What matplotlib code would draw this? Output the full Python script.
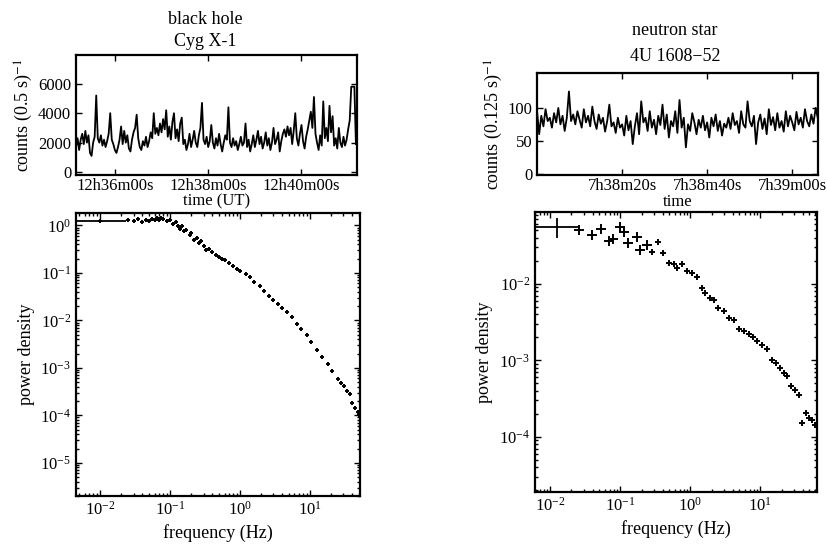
import numpy as np
import matplotlib.pyplot as plt
from matplotlib.ticker import FixedLocator, FixedFormatter, LogLocator, NullFormatter

plt.rcParams['font.family'] = ['Liberation Serif', 'DejaVu Serif']
plt.rcParams['mathtext.fontset'] = 'stix'
plt.rcParams['axes.linewidth'] = 1.6

# Cyg X-1 light curve, counts per 0.5 s (read every 2 s), start 12h35m10s
cyg_t0 = 45310
cyg_dt = 2
cyg_counts = [
    1700, 2300, 1500, 2200, 2600, 1900, 2800, 2000, 2500, 1300,
    1100, 2000, 2400, 5200, 2300, 2000, 2500, 1800, 2200, 1700,
    2100, 2600, 4000, 2200, 1900, 1500, 1300, 1700, 2200, 3100,
    1900, 2800, 2000, 2500, 1600, 1400, 2200, 2700, 3000, 3900,
    2300, 1700, 1500, 2100, 1800, 2400, 1700, 2100, 2700, 2300,
    4000, 2600, 3000, 2500, 3300, 2700, 3600, 2900, 4200, 2400,
    3100, 2200, 3400, 4000, 2300, 2900, 2100, 3300, 3700, 1900,
    2200, 1500, 1900, 2600, 1700, 2200, 2800, 2000, 1700, 2500,
    3000, 4700, 2200, 1900, 2400, 1700, 2100, 3200, 2000, 1600,
    2300, 1800, 2600, 1900, 1400, 2000, 2500, 2200, 4400, 2000,
    1700, 2300, 1800, 2100, 1500, 1900, 2400, 1800, 2000, 3300,
    1700, 2200, 1400, 1900, 2500, 1700, 2200, 2800, 1900, 2400,
    1600, 2000, 2700, 1800, 2300, 1500, 2000, 3000, 1900, 2200,
    2700, 1400, 2100, 2600, 2900, 2400, 3100, 2500, 3000, 1900,
    2800, 4000, 2300, 1800, 2600, 3200, 2100, 1600, 2400, 2900,
    3500, 4100, 3000, 5100, 2600, 2000, 1500, 2500, 1800, 4800,
    2300, 3000, 2100, 4500, 2700, 3800, 1800, 2300, 1600, 3000,
    2000, 1700, 2400, 1800, 2200, 2900, 3500, 5800, 5800, 5800,
    1900,
]
cyg_ticks = [45360, 45480, 45600]
cyg_ticklabels = ['12h36m00s', '12h38m00s', '12h40m00s']

# 4U 1608-52 light curve, counts per 0.125 s (read every 0.5 s), start 7h38m00s
ns_t0 = 27480
ns_dt = 0.5
ns_counts = [
    95, 60, 88, 72, 98, 80, 85, 70, 92, 78,
    100, 75, 88, 65, 85, 125, 80, 90, 75, 95,
    82, 70, 98, 78, 88, 72, 102, 80, 68, 90,
    76, 85, 64, 80, 105, 72, 78, 62, 85, 70,
    75, 58, 88, 66, 80, 45, 72, 92, 60, 110,
    78, 85, 65, 95, 70, 82, 60, 88, 74, 105,
    68, 90, 55, 80, 72, 95, 62, 112, 70, 85,
    40, 75, 65, 92, 78, 60, 82, 70, 88, 66,
    78, 55, 85, 72, 90, 65, 80, 58, 76, 70,
    85, 68, 92, 74, 80, 62, 95, 75, 70, 110,
    80, 72, 88, 45, 78, 90, 68, 84, 60, 98,
    74, 86, 66, 92, 70, 80, 64, 95, 72, 88,
    78, 66, 94, 75, 85, 70, 98, 80, 72, 90, 76, 100, 85,
]
ns_ticks = [27500, 27520, 27540]
ns_ticklabels = ['7h38m20s', '7h38m40s', '7h39m00s']

# power spectra
cyg_freq = [0.01, 0.025, 0.03, 0.035, 0.04, 0.045, 0.05, 0.055, 0.06, 0.065,
            0.07, 0.075, 0.08, 0.09, 0.1, 0.11, 0.12, 0.13, 0.14, 0.15,
            0.16, 0.17, 0.19, 0.2, 0.22, 0.24, 0.26, 0.28, 0.3, 0.33,
            0.36, 0.4, 0.45, 0.5, 0.55, 0.6, 0.7, 0.8, 0.9, 1.0,
            1.2, 1.4, 1.6, 1.9, 2.2, 2.6, 3.0, 3.5, 4.0, 4.7,
            5.5, 6.5, 7.5, 9.0, 10.5, 12.5, 15, 18, 21, 25,
            28, 31, 34, 37, 40, 44, 48, 51]
cyg_power = [1.25, 1.3, 1.25, 1.35, 1.2, 1.3, 1.25, 1.35, 1.3, 1.4,
             1.3, 1.45, 1.35, 1.25, 1.3, 1.05, 1.15, 0.95, 0.85, 0.95,
             0.75, 0.8, 0.62, 0.7, 0.5, 0.55, 0.42, 0.47, 0.36, 0.3,
             0.32, 0.28, 0.24, 0.22, 0.2, 0.19, 0.16, 0.14, 0.12, 0.11,
             0.095, 0.08, 0.065, 0.052, 0.042, 0.033, 0.027, 0.022, 0.018, 0.015,
             0.012, 0.0085, 0.0065, 0.0048, 0.0035, 0.0024, 0.0017, 0.0012, 0.00085, 0.00058,
             0.00048, 0.00042, 0.00033, 0.00028, 0.00018, 0.00014, 0.00012, 0.0001]

ns_freq = [0.0125, 0.026, 0.039, 0.053, 0.068, 0.079, 0.098, 0.112, 0.13, 0.17,
           0.19, 0.24, 0.28, 0.34, 0.41, 0.49, 0.58, 0.65, 0.76, 0.9,
           1.05, 1.25, 1.47, 1.6, 1.93, 2.15, 2.5, 3.0, 3.5, 4.2,
           4.9, 5.8, 6.8, 7.9, 8.9, 10.5, 12.5, 14.7, 16.4, 18.9,
           21.5, 24, 27.5, 31.6, 35, 39.5, 44, 49, 55, 61]
ns_power = [0.055, 0.051, 0.043, 0.052, 0.036, 0.038, 0.055, 0.048, 0.034, 0.041,
            0.028, 0.032, 0.026, 0.035, 0.025, 0.019, 0.018, 0.016, 0.018, 0.0145,
            0.0138, 0.0124, 0.0088, 0.0076, 0.0065, 0.0062, 0.0048, 0.0044, 0.0036, 0.0034,
            0.0026, 0.0024, 0.0022, 0.0020, 0.0018, 0.0016, 0.0014, 0.0010, 0.00092, 0.00079,
            0.00068, 0.00062, 0.00046, 0.00041, 0.00035, 0.00015, 0.000205, 0.000175, 0.000166, 0.000145]


fig = plt.figure(figsize=(8.28, 5.47), dpi=100)

ax1 = fig.add_axes([0.0918, 0.680, 0.339, 0.2194])
ax2 = fig.add_axes([0.0918, 0.0932, 0.343, 0.517])
ax3 = fig.add_axes([0.6486, 0.680, 0.339, 0.1865])
ax4 = fig.add_axes([0.646, 0.1005, 0.3406, 0.512])

for ax in (ax1, ax2, ax3, ax4):
    ax.tick_params(direction='in', which='both', top=True, right=True,
                   labelsize=12, width=1.0)
    ax.tick_params(which='major', length=4)
    ax.tick_params(which='minor', length=2)

# light curves
t = cyg_t0 + cyg_dt * np.arange(len(cyg_counts))
ax1.plot(t, cyg_counts, color='black', lw=1.3)
ax1.set_xlim(45310, 45671)
ax1.set_ylim(-200, 7950)
ax1.set_yticks([0, 2000, 4000, 6000])
ax1.xaxis.set_major_locator(FixedLocator(cyg_ticks))
ax1.xaxis.set_major_formatter(FixedFormatter(cyg_ticklabels))
ax1.tick_params(axis='x', pad=2)
ax1.set_xlabel('time (UT)', fontsize=12, labelpad=0)
ax1.set_ylabel('counts (0.5 s)$^{-1}$', fontsize=13, labelpad=2)

t = ns_t0 + ns_dt * np.arange(len(ns_counts))
ax3.plot(t, ns_counts, color='black', lw=1.3)
ax3.set_xlim(27480, 27546)
ax3.set_ylim(-2, 153)
ax3.set_yticks([0, 50, 100])
ax3.xaxis.set_major_locator(FixedLocator(ns_ticks))
ax3.xaxis.set_major_formatter(FixedFormatter(ns_ticklabels))
ax3.tick_params(axis='x', pad=2)
ax3.set_xlabel('time', fontsize=12, labelpad=0)
ax3.set_ylabel('counts (0.125 s)$^{-1}$', fontsize=13, labelpad=2)

# power spectra
ax2.errorbar(cyg_freq[:1], cyg_power[:1], xerr=[[0.006], [0.013]],
             fmt='none', ecolor='black', lw=1.3)
ax2.plot(cyg_freq, cyg_power, '+', color='black', ms=3.5, mew=1.4)
ax2.set_xscale('log')
ax2.set_yscale('log')
ax2.set_xlim(0.0045, 52)
ax2.set_ylim(2e-6, 1.8)
ax2.set_yticks([1, 1e-1, 1e-2, 1e-3, 1e-4, 1e-5])
ax2.set_xticks([1e-2, 1e-1, 1, 10])
ax2.set_xlabel('frequency (Hz)', fontsize=13)
ax2.set_ylabel('power density', fontsize=13)

ax4.errorbar(ns_freq[:1], ns_power[:1], xerr=[[0.0075], [0.012]],
             yerr=[[0.015], [0.017]], fmt='none', ecolor='black', lw=1.3)
ax4.plot(ns_freq[1:12], ns_power[1:12], '+', color='black', ms=7, mew=1.4)
ax4.plot(ns_freq[12:], ns_power[12:], '+', color='black', ms=4, mew=1.4)
ax4.set_xscale('log')
ax4.set_yscale('log')
ax4.set_xlim(0.006, 64)
ax4.set_ylim(1.9e-5, 0.087)
ax4.set_yticks([1e-2, 1e-3, 1e-4])
ax4.set_xticks([1e-2, 1e-1, 1, 10])
ax4.set_xlabel('frequency (Hz)', fontsize=13)
ax4.set_ylabel('power density', fontsize=13)

for ax in (ax2, ax4):
    ax.xaxis.set_minor_locator(LogLocator(base=10, subs=np.arange(2, 10)))
    ax.yaxis.set_minor_locator(LogLocator(base=10, subs=np.arange(2, 10)))
    ax.xaxis.set_minor_formatter(NullFormatter())
    ax.yaxis.set_minor_formatter(NullFormatter())

fig.text(0.2476, 0.965, 'black hole', ha='center', va='center', fontsize=13)
fig.text(0.2476, 0.925, 'Cyg X-1', ha='center', va='center', fontsize=13)
fig.text(0.815, 0.945, 'neutron star', ha='center', va='center', fontsize=13)
fig.text(0.815, 0.897, '4U 1608\u221252', ha='center', va='center', fontsize=13)

fig.savefig('out.png', dpi=100)
